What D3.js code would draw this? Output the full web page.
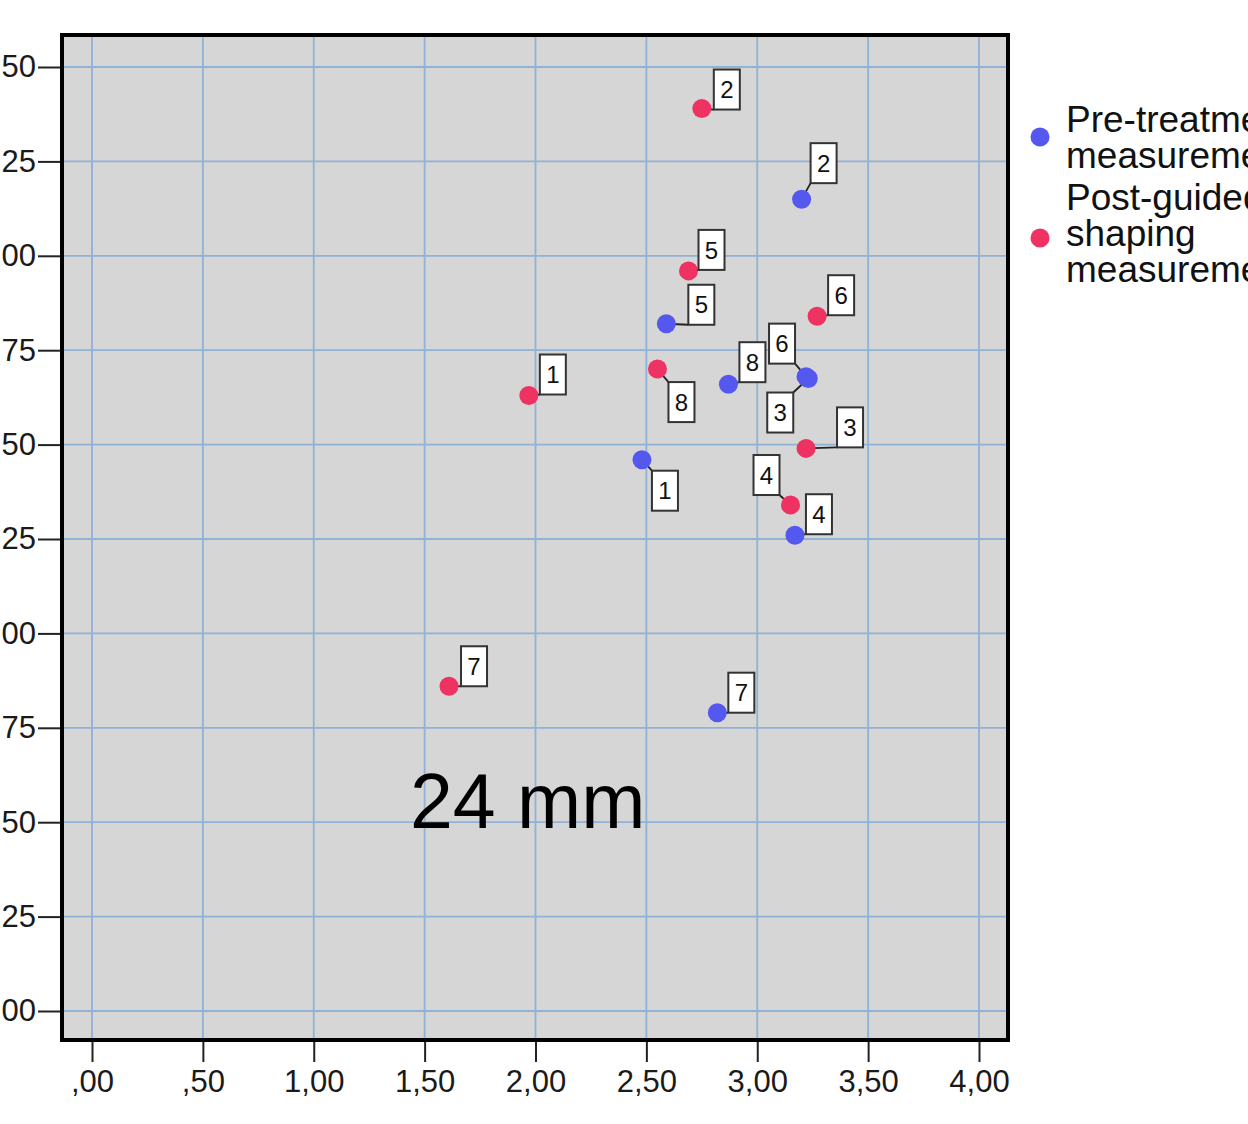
<!DOCTYPE html>
<html>
<head>
<meta charset="utf-8">
<script src="https://cdn.jsdelivr.net/npm/d3@7"></script>
<style>
  body { margin: 0; background: #fff; overflow: hidden; }
  svg { display: block; font-family: "Liberation Sans", Arial, Helvetica, sans-serif; }
</style>
</head>
<body>
<svg id="chart" width="1248" height="1124"></svg>
<script>
// patient ids, pre-treatment (blue) and post-guided shaping (red) measurements
var caseIds   = ["1", "2", "3", "4", "5", "6", "7", "8"];
var preX  = [2.48, 3.20, 3.23, 3.17, 2.59, 3.22, 2.82, 2.87];
var preY  = [1.46, 2.15, 1.675, 1.26, 1.82, 1.68, 0.79, 1.66];
var postX = [1.97, 2.75, 3.22, 3.15, 2.69, 3.27, 1.61, 2.55];
var postY = [1.63, 2.39, 1.49, 1.34, 1.96, 1.84, 0.86, 1.70];

var xTicks = [0, 0.5, 1, 1.5, 2, 2.5, 3, 3.5, 4];
var yTicks = [0, 0.25, 0.5, 0.75, 1, 1.25, 1.5, 1.75, 2, 2.25, 2.5];
var annotation = "24 mm";

// label box offsets (px) from each point, same order as caseIds
var preLabelOff  = [[23, 31], [22, -36], [-28, 34], [24, -21], [35, -19], [-24, -33], [24, -20], [24, -22]];
var postLabelOff = [[24, -21], [25, -19], [44, -21], [-24, -30], [23, -21], [24, -21], [25, -20], [24, 33]];

var colours = { pre: "#5458ef", post: "#ee3262", grid: "#8fb2d6", plot: "#d6d6d6" };

var svg = d3.select("#chart");

var x = d3.scaleLinear().domain([0, 4]).range([92, 979]);
var y = d3.scaleLinear().domain([0, 2.5]).range([1011, 67]);

var frame = { x0: 62, x1: 1008, y0: 35, y1: 1040 };

var locale = d3.formatLocale({ decimal: ",", thousands: ".", grouping: [3], currency: ["", ""] });
var fmt = function (v) { return locale.format(".2f")(v).replace(/^0,/, ","); };

// plot background
svg.append("rect")
  .attr("x", frame.x0).attr("y", frame.y0)
  .attr("width", frame.x1 - frame.x0).attr("height", frame.y1 - frame.y0)
  .attr("fill", colours.plot);

// grid
svg.append("g").selectAll("line")
  .data(xTicks).enter().append("line")
  .attr("x1", function (d) { return x(d); }).attr("x2", function (d) { return x(d); })
  .attr("y1", frame.y0).attr("y2", frame.y1)
  .attr("stroke", colours.grid).attr("stroke-width", 1.8);
svg.append("g").selectAll("line")
  .data(yTicks).enter().append("line")
  .attr("y1", function (d) { return y(d); }).attr("y2", function (d) { return y(d); })
  .attr("x1", frame.x0).attr("x2", frame.x1)
  .attr("stroke", colours.grid).attr("stroke-width", 1.8);

// axes
var xAxis = svg.append("g")
  .attr("transform", "translate(0," + frame.y1 + ")")
  .call(d3.axisBottom(x).tickValues(xTicks).tickFormat(fmt).tickSize(22).tickPadding(6));
var yAxis = svg.append("g")
  .attr("transform", "translate(" + frame.x0 + ",0)")
  .call(d3.axisLeft(y).tickValues(yTicks).tickFormat(fmt).tickSize(24).tickPadding(2));

[xAxis, yAxis].forEach(function (a) {
  a.select(".domain").remove();
  a.selectAll(".tick line").attr("stroke", "#222").attr("stroke-width", 2);
  a.selectAll(".tick text")
    .attr("fill", "#1a1a1a")
    .style("font-size", "31px")
    .style("font-family", "'Liberation Sans', Arial, sans-serif");
});
xAxis.selectAll(".tick text").attr("dy", "0.78em");

// frame border
svg.append("rect")
  .attr("x", frame.x0).attr("y", frame.y0)
  .attr("width", frame.x1 - frame.x0).attr("height", frame.y1 - frame.y0)
  .attr("fill", "none").attr("stroke", "#000").attr("stroke-width", 4);

// annotation
svg.append("text")
  .attr("x", 410).attr("y", 828)
  .style("font-size", "77px")
  .attr("fill", "#000")
  .text(annotation);

function buildSeries(xs, ys, offs, colour) {
  return caseIds.map(function (id, i) {
    return { id: id, x: xs[i], y: ys[i], off: offs[i], colour: colour };
  });
}

var points = buildSeries(preX, preY, preLabelOff, colours.pre)
  .concat(buildSeries(postX, postY, postLabelOff, colours.post));

var boxW = 26, boxH = 40;

var marks = svg.append("g");

// leader lines
marks.selectAll("line.leader")
  .data(points).enter().append("line")
  .attr("class", "leader")
  .attr("x1", function (d) { return x(d.x); })
  .attr("y1", function (d) { return y(d.y); })
  .attr("x2", function (d) { return x(d.x) + d.off[0] - Math.sign(d.off[0]) * boxW / 2; })
  .attr("y2", function (d) { return y(d.y) + d.off[1] - Math.sign(d.off[1]) * boxH / 2; })
  .attr("stroke", "#222").attr("stroke-width", 1.8);

// dots
marks.selectAll("circle")
  .data(points).enter().append("circle")
  .attr("cx", function (d) { return x(d.x); })
  .attr("cy", function (d) { return y(d.y); })
  .attr("r", 9.5)
  .attr("fill", function (d) { return d.colour; });

// label boxes
var lbl = marks.selectAll("g.lbl")
  .data(points).enter().append("g")
  .attr("class", "lbl")
  .attr("transform", function (d) {
    return "translate(" + (x(d.x) + d.off[0]) + "," + (y(d.y) + d.off[1]) + ")";
  });
lbl.append("rect")
  .attr("x", -boxW / 2).attr("y", -boxH / 2)
  .attr("width", boxW).attr("height", boxH)
  .attr("fill", "#fff").attr("stroke", "#333").attr("stroke-width", 2);
lbl.append("text")
  .attr("text-anchor", "middle")
  .attr("dy", "0.36em")
  .style("font-size", "24px")
  .attr("fill", "#111")
  .text(function (d) { return d.id; });

// legend
var legend = svg.append("g");
var legendLines = [["Pre-treatment", "measurement"], ["Post-guided", "shaping", "measurement"]];
var legendTop = [132, 210];
var legendDotY = [137, 238];
legendLines.forEach(function (lines, k) {
  legend.append("circle")
    .attr("cx", 1040).attr("cy", legendDotY[k]).attr("r", 9.5)
    .attr("fill", k === 0 ? colours.pre : colours.post);
  legend.selectAll(null)
    .data(lines).enter().append("text")
    .attr("x", 1066)
    .attr("y", function (d, i) { return legendTop[k] + i * 36; })
    .style("font-size", "37px")
    .attr("fill", "#111")
    .text(function (d) { return d; });
});
</script>
</body>
</html>
